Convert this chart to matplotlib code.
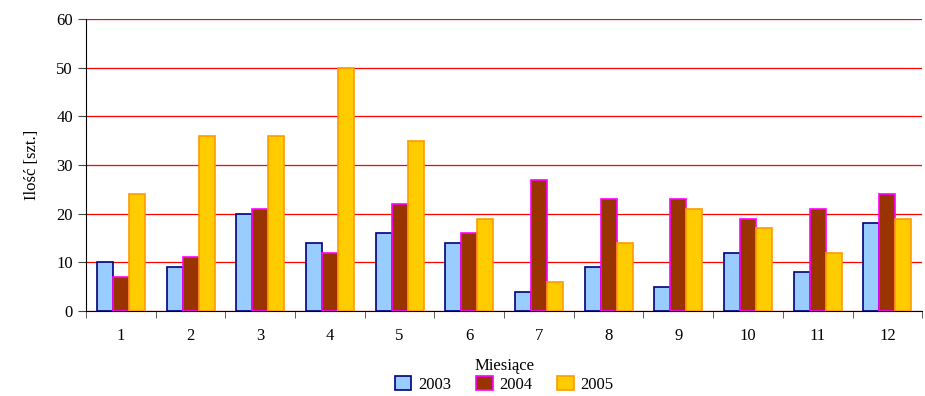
import numpy as np
import matplotlib.pyplot as plt

months = ['1', '2', '3', '4', '5', '6', '7', '8', '9', '10', '11', '12']
years = ['2003', '2004', '2005']
v2003 = [10, 9, 20, 14, 16, 14, 4, 9, 5, 12, 8, 18]
v2004 = [7, 11, 21, 12, 22, 16, 27, 23, 23, 19, 21, 24]
v2005 = [24, 36, 36, 50, 35, 19, 6, 14, 21, 17, 12, 19]

faces = ['#99CCFF', '#993300', '#FFCC00']
edges = ['#000080', '#FF00FF', '#FF9900']

plt.rcParams['font.family'] = ['Liberation Serif', 'DejaVu Serif']

fig = plt.figure(figsize=(9.25, 3.96), dpi=100)
ax = fig.add_axes([0.093, 0.2146, 0.904, 0.7374])

x = np.arange(len(months))
w = 0.23
for i, vals in enumerate([v2003, v2004, v2005]):
    ax.bar(x + (i - 1) * w, vals, w, color=faces[i], edgecolor=edges[i],
           linewidth=1.2, label=years[i], zorder=3)

ax.set_ylim(0, 60)
ax.set_xlim(-0.5, len(months) - 0.5)
ax.set_yticks(range(0, 61, 10))
ax.yaxis.grid(True, color='#FF0000', linewidth=0.9, zorder=0)

ax.set_xticks(x)
ax.set_xticklabels(months)
ax.set_xticks(np.arange(-0.5, len(months)), minor=True)
ax.tick_params(axis='x', which='major', length=0, pad=12, labelsize=12)
ax.tick_params(axis='x', which='minor', length=5, color='#444444')
ax.tick_params(axis='y', length=6, labelsize=12, color='#444444')

for s in ['top', 'right']:
    ax.spines[s].set_visible(False)

ax.set_ylabel('Ilość [szt.]', fontsize=12, labelpad=12)
ax.set_xlabel('Miesiące', fontsize=12, labelpad=10)

ax.legend(loc='upper center', bbox_to_anchor=(0.5, -0.2), ncol=3, frameon=False,
          fontsize=12, handlelength=1.0, handleheight=0.9, columnspacing=1.5,
          handletextpad=0.4, borderaxespad=0)

fig.savefig('out.png', dpi=100)
